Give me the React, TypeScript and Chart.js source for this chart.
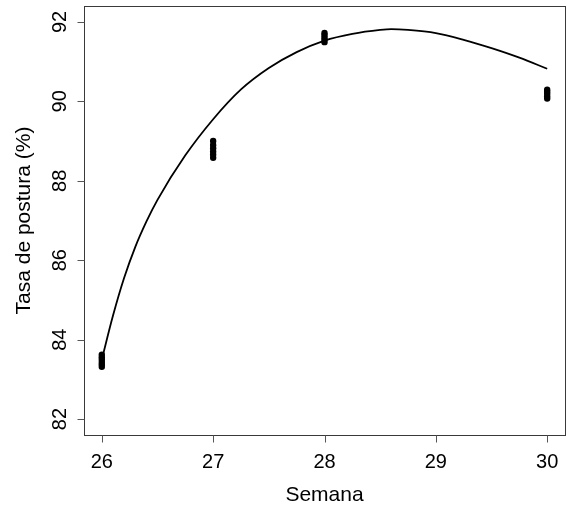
import { useEffect, useRef } from "react";
import { Chart, registerables } from "chart.js";

Chart.register(...registerables);

// Observed values (Tasa de postura, %) per week
const obs26 = [83.32, 83.38, 83.44, 83.5, 83.56, 83.62];
const obs27 = [88.58, 88.66, 88.74, 88.82, 88.9, 89.0];
const obs28 = [91.49, 91.55, 91.61, 91.67, 91.72];
const obs30 = [90.07, 90.13, 90.19, 90.24, 90.29];

// Fitted curve
const curveWeeks = [26, 26.1, 26.2, 26.3, 26.4, 26.5, 26.75, 27, 27.25, 27.5, 27.75, 28, 28.25, 28.5, 28.6, 28.75, 29, 29.25, 29.5, 29.75, 30];
const curveRate = [83.5, 84.6, 85.55, 86.33, 86.97, 87.52, 88.64, 89.55, 90.3, 90.84, 91.24, 91.53, 91.7, 91.8, 91.82, 91.8, 91.72, 91.55, 91.34, 91.1, 90.82];

// Axis ticks
const xTicks = [26, 27, 28, 29, 30];
const yTicks = [82, 84, 86, 88, 90, 92];
const xTitle = "Semana";
const yTitle = "Tasa de postura (%)";

const FONT = '"Liberation Sans", Arial, Helvetica, sans-serif';

const rFramePlugin = {
  id: "rFrame",
  afterDraw(chart: any) {
    const { ctx, chartArea } = chart;
    const xs = chart.scales.x;
    const ys = chart.scales.y;
    const L = Math.round(chartArea.left) + 0.5;
    const R = Math.round(chartArea.right) + 0.5;
    const T = Math.round(chartArea.top) + 0.5;
    const B = Math.round(chartArea.bottom) + 0.5;
    ctx.save();
    // box
    ctx.strokeStyle = "#3a3a3a";
    ctx.lineWidth = 1;
    ctx.strokeRect(L, T, R - L, B - T);
    // ticks
    ctx.strokeStyle = "#555";
    ctx.beginPath();
    xTicks.forEach((v) => {
      const px = Math.round(xs.getPixelForValue(v)) + 0.5;
      ctx.moveTo(px, B);
      ctx.lineTo(px, B + 7);
    });
    yTicks.forEach((v) => {
      const py = Math.round(ys.getPixelForValue(v)) + 0.5;
      ctx.moveTo(L, py);
      ctx.lineTo(L - 7, py);
    });
    ctx.stroke();
    // tick labels
    ctx.fillStyle = "#000";
    ctx.font = `20px ${FONT}`;
    ctx.textAlign = "center";
    ctx.textBaseline = "alphabetic";
    xTicks.forEach((v) => {
      ctx.fillText(String(v), xs.getPixelForValue(v), B + 32);
    });
    yTicks.forEach((v) => {
      ctx.save();
      ctx.translate(L - 19, ys.getPixelForValue(v));
      ctx.rotate(-Math.PI / 2);
      ctx.fillText(String(v), 0, 0);
      ctx.restore();
    });
    // titles
    ctx.font = `21px ${FONT}`;
    ctx.fillText(xTitle, (chartArea.left + chartArea.right) / 2, 501);
    ctx.save();
    ctx.translate(30, (chartArea.top + chartArea.bottom) / 2);
    ctx.rotate(-Math.PI / 2);
    ctx.fillText(yTitle, 0, 0);
    ctx.restore();
    ctx.restore();
  },
};

export default function App() {
  const ref = useRef<HTMLCanvasElement | null>(null);

  useEffect(() => {
    if (!ref.current) return;
    const points = [
      ...obs26.map((y) => ({ x: 26, y })),
      ...obs27.map((y) => ({ x: 27, y })),
      ...obs28.map((y) => ({ x: 28, y })),
      ...obs30.map((y) => ({ x: 30, y })),
    ];
    const curve = curveWeeks.map((x, i) => ({ x, y: curveRate[i] }));
    const chart = new Chart(ref.current, {
      type: "scatter",
      data: {
        datasets: [
          {
            label: "obs",
            data: points,
            showLine: false,
            pointRadius: 3.2,
            pointBackgroundColor: "#000",
            pointBorderColor: "#000",
            pointBorderWidth: 0,
          },
          {
            label: "fit",
            data: curve,
            showLine: true,
            pointRadius: 0,
            borderColor: "#000",
            borderWidth: 1.8,
            cubicInterpolationMode: "monotone",
            fill: false,
          },
        ],
      },
      options: {
        animation: false,
        responsive: false,
        layout: { padding: { left: 84, top: 6, right: 4, bottom: 73 } },
        plugins: { legend: { display: false }, tooltip: { enabled: false } },
        scales: {
          x: { type: "linear", min: 25.84, max: 30.16, display: false },
          y: { type: "linear", min: 81.6, max: 92.4, display: false },
        },
      },
      plugins: [rFramePlugin],
    });
    return () => chart.destroy();
  }, []);

  return (
    <div style={{ position: "fixed", left: 0, top: 0, width: 569, height: 508, background: "#fff" }}>
      <canvas ref={ref} width={569} height={508} style={{ display: "block" }} />
    </div>
  );
}
